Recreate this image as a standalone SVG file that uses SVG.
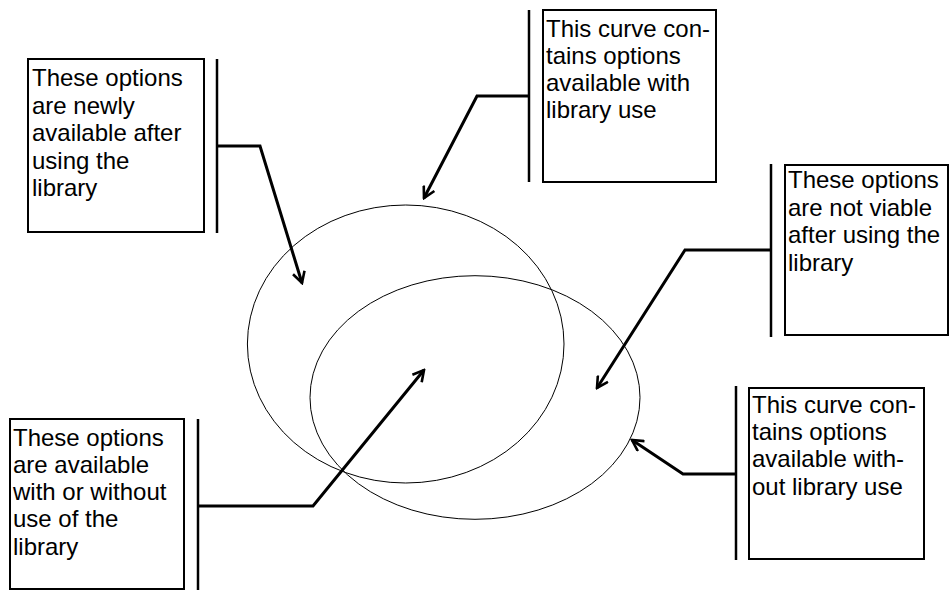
<svg xmlns="http://www.w3.org/2000/svg" width="950" height="590" viewBox="0 0 950 590">
<defs>
<style>
.box{fill:#fff;stroke:#000;stroke-width:2}
.bar{stroke:#000;stroke-width:2.5}
.lbl{font-family:"Liberation Sans",Arial,sans-serif;font-size:24px;fill:#000}
.curve{fill:none;stroke:#000;stroke-width:1}
.conn{fill:none;stroke:#000;stroke-width:3;stroke-linejoin:miter}
</style>
<marker id="arr" viewBox="0 0 14 14" refX="12" refY="7" markerWidth="14" markerHeight="14" markerUnits="userSpaceOnUse" orient="auto">
<path d="M1,1 L12,7 L1,13" fill="none" stroke="#000" stroke-width="2.6"/>
</marker>
</defs>
<rect width="950" height="590" fill="#fff"/>
<g id="curves">
<ellipse id="curve-with" class="curve" cx="405.7" cy="344" rx="158.3" ry="139"/>
<ellipse id="curve-without" class="curve" cx="475" cy="397.5" rx="165" ry="121.8"/>
</g>
<g id="connectors">
<polyline class="conn" points="217,146 260,146 302,283" marker-end="url(#arr)"/>
<polyline class="conn" points="529,96 477,96 424,198" marker-end="url(#arr)"/>
<polyline class="conn" points="771,250 685,250 597,388" marker-end="url(#arr)"/>
<polyline class="conn" points="198,506 313,506 424,370" marker-end="url(#arr)"/>
<polyline class="conn" points="736,474 683,474 632,440" marker-end="url(#arr)"/>
</g>
<g id="node-newly">
<rect class="box" x="28" y="59" width="176" height="173"/>
<line class="bar" x1="217" y1="59" x2="217" y2="233"/>
<text class="lbl"><tspan x="32" y="86">These options</tspan><tspan x="32" y="113.5">are newly</tspan><tspan x="32" y="141">available after</tspan><tspan x="32" y="168.5">using the</tspan><tspan x="32" y="196">library</tspan></text>
</g>
<g id="node-with">
<rect class="box" x="543" y="10" width="173" height="172"/>
<line class="bar" x1="529" y1="10" x2="529" y2="182"/>
<text class="lbl"><tspan x="546" y="36.5">This curve con-</tspan><tspan x="546" y="63.5">tains options</tspan><tspan x="546" y="90.5">available with</tspan><tspan x="546" y="118">library use</tspan></text>
</g>
<g id="node-notviable">
<rect class="box" x="785" y="165" width="163" height="170"/>
<line class="bar" x1="771" y1="164" x2="771" y2="337"/>
<text class="lbl"><tspan x="788" y="188">These options</tspan><tspan x="788" y="215.5">are not viable</tspan><tspan x="788" y="243">after using the</tspan><tspan x="788" y="270.5">library</tspan></text>
</g>
<g id="node-both">
<rect class="box" x="10" y="419" width="174" height="170"/>
<line class="bar" x1="198" y1="419" x2="198" y2="590"/>
<text class="lbl"><tspan x="13" y="446">These options</tspan><tspan x="13" y="473">are available</tspan><tspan x="13" y="500">with or without</tspan><tspan x="13" y="527">use of the</tspan><tspan x="13" y="555">library</tspan></text>
</g>
<g id="node-without">
<rect class="box" x="749" y="388" width="175" height="171"/>
<line class="bar" x1="736" y1="386" x2="736" y2="560"/>
<text class="lbl"><tspan x="752" y="413">This curve con-</tspan><tspan x="752" y="440">tains options</tspan><tspan x="752" y="467">available with-</tspan><tspan x="752" y="495">out library use</tspan></text>
</g>
</svg>
